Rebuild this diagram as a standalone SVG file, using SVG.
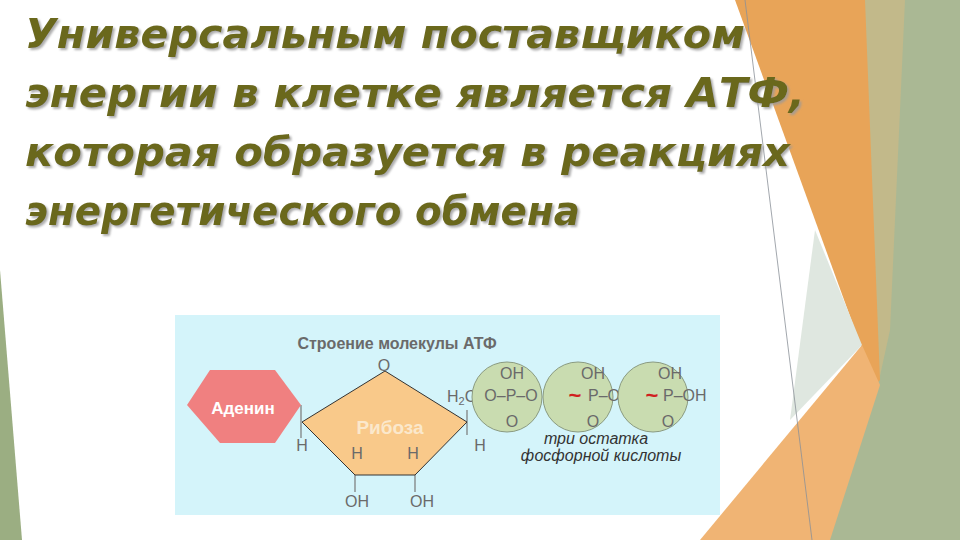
<svg xmlns="http://www.w3.org/2000/svg" width="960" height="540" viewBox="0 0 960 540">
<defs>
<filter id="sh" x="-5%" y="-20%" width="110%" height="150%"><feDropShadow dx="2" dy="2" stdDeviation="1" flood-color="#999" flood-opacity="0.8"/></filter>
</defs>
<style>
.t{font-family:"DejaVu Sans",sans-serif;font-weight:bold;font-style:italic;font-size:40px;fill:#6b681c}
.c{font-family:"Liberation Sans",Arial,sans-serif;font-size:16px;fill:#6a6a6a;text-anchor:middle}
.s{font-family:"Liberation Sans",Arial,sans-serif;font-size:16px;fill:#6a6a6a}
.ln{stroke:#777;stroke-width:1.2;fill:none}
.db{stroke:#777;stroke-width:1;fill:none}
.ph{fill:#c9dcb0;stroke:#8a9a80;stroke-width:1}
</style>
<rect width="960" height="540" fill="#fff"/>
<g id="decor">
<polygon points="860,0 960,0 960,540 820,540 878,385" fill="#aab894"/>
<polygon points="860,0 905,0 890,330 878,385" fill="#c2b98a"/>
<polygon points="735,0 865,0 880,380 875,385" fill="#e8a458"/>
<polygon points="862,345 880,385 830,540 700,540" fill="#f0b474"/>
<polygon points="815,230 862,345 790,420" fill="#dfe7e0"/>
<polygon points="0,270 22,540 0,540" fill="#9bae82"/>
<line x1="745" y1="0" x2="812" y2="540" stroke="#8a9098" stroke-width="0.8"/>
</g>
<g id="title" filter="url(#sh)">
<text class="t" x="25" y="48" textLength="720" lengthAdjust="spacingAndGlyphs">Универсальным поставщиком</text>
<text class="t" x="25" y="107" textLength="780" lengthAdjust="spacingAndGlyphs">энергии в клетке является АТФ,</text>
<text class="t" x="25" y="166" textLength="765" lengthAdjust="spacingAndGlyphs">которая образуется в реакциях</text>
<text class="t" x="25" y="225" textLength="555" lengthAdjust="spacingAndGlyphs">энергетического обмена</text>
</g>
<rect x="175" y="315" width="545" height="200" fill="#d4f4fa"/>
<text class="c" x="397" y="349" font-weight="bold" font-size="14">Строение молекулы АТФ</text>
<g id="connectors">
<line class="ln" x1="301" y1="405" x2="301" y2="438"/>
<line class="ln" x1="467" y1="410" x2="467" y2="435"/>
<line class="ln" x1="355" y1="475" x2="355" y2="492"/>
<line class="ln" x1="415" y1="475" x2="415" y2="492"/>
<path class="db" d="M510,405 V413 M514,405 V413 M591,405 V413 M595,405 V413 M666,405 V413 M670,405 V413 M512,382 V388 M593,382 V388 M668,382 V388"/>
</g>
<g id="adenine">
<polygon points="187,405 210,370 275,370 301,405 275,443 220,443" fill="#f08080"/>
<text x="243" y="414" font-family="Liberation Sans,Arial,sans-serif" font-weight="bold" font-size="17" fill="#fff" text-anchor="middle">Аденин</text>
</g>
<g id="ribose">
<polygon points="385,371 302,422 355,475 415,475 467,422" fill="#f9c98a" stroke="#333" stroke-width="1"/>
<text class="c" x="384" y="371">O</text>
<text x="390" y="434" font-family="Liberation Sans,Arial,sans-serif" font-weight="bold" font-size="19" fill="#fbe8cc" text-anchor="middle">Рибоза</text>
<text class="c" x="302" y="451">H</text>
<text class="c" x="480" y="451">H</text>
<text class="c" x="357" y="459">H</text>
<text class="c" x="413" y="459">H</text>
<text class="c" x="357" y="507">OH</text>
<text class="c" x="422" y="507">OH</text>
<text class="s" x="447" y="402">H<tspan font-size="11" dy="3">2</tspan><tspan dy="-3">C–</tspan></text>
</g>
<g id="phosphate1">
<circle class="ph" cx="507" cy="397" r="35"/>
<text class="c" x="512" y="379">OH</text>
<text class="c" x="511" y="401">O–P–O</text>
<text class="c" x="512" y="427">O</text>
</g>
<g id="phosphate2">
<circle class="ph" cx="578" cy="397" r="35"/>
<text class="c" x="593" y="379">OH</text>
<text x="575" y="403" font-family="Liberation Sans,Arial,sans-serif" font-size="22" font-weight="bold" fill="#d02020" text-anchor="middle">~</text>
<text class="s" x="588" y="401">P–O</text>
<text class="c" x="593" y="427">O</text>
</g>
<g id="phosphate3">
<circle class="ph" cx="653" cy="397" r="35"/>
<text class="c" x="670" y="379">OH</text>
<text x="652" y="403" font-family="Liberation Sans,Arial,sans-serif" font-size="22" font-weight="bold" fill="#d02020" text-anchor="middle">~</text>
<text class="s" x="663" y="401">P–OH</text>
<text class="c" x="668" y="427">O</text>
</g>
<g id="caption">
<text class="c" x="596" y="444" font-style="italic" font-size="13" style="fill:#333">три остатка</text>
<text class="c" x="601" y="461" font-style="italic" font-size="13" style="fill:#333">фосфорной кислоты</text>
</g>
</svg>
